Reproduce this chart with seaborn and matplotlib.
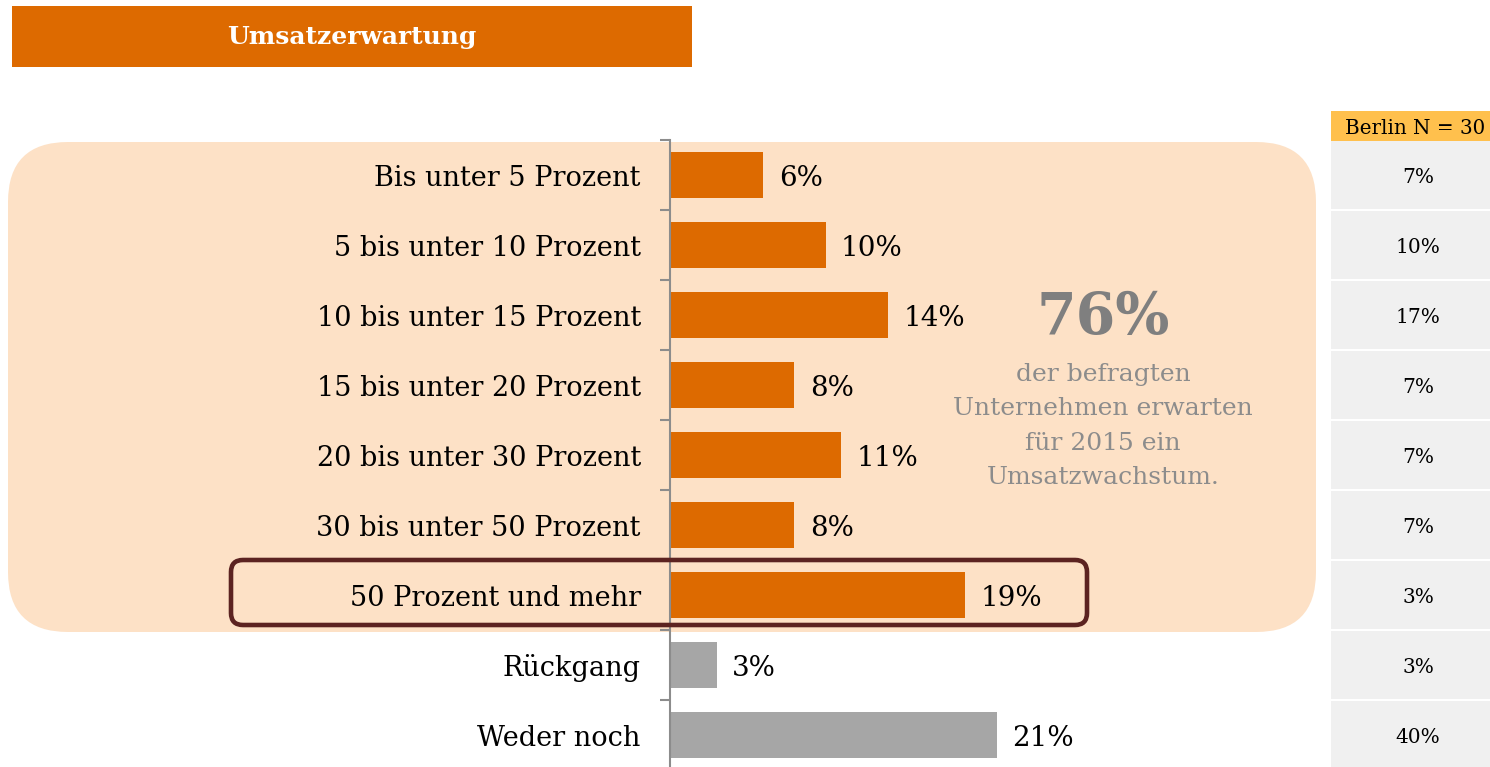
import matplotlib
matplotlib.use("Agg")
import matplotlib.pyplot as plt
import matplotlib.transforms as mtransforms
from matplotlib.patches import FancyBboxPatch, Rectangle
import seaborn as sns
import pandas as pd
import numpy as np

categories = ["Bis unter 5 Prozent", "5 bis unter 10 Prozent", "10 bis unter 15 Prozent",
              "15 bis unter 20 Prozent", "20 bis unter 30 Prozent", "30 bis unter 50 Prozent",
              "50 Prozent und mehr", "Rückgang", "Weder noch"]
values = [6, 10, 14, 8, 11, 8, 19, 3, 21]
groups = ["Wachstum"] * 7 + ["Sonstiges"] * 2
berlin_values = [7, 10, 17, 7, 7, 7, 3, 3, 40]
berlin_header = "Berlin N = 30"
title = "Umsatzerwartung"
big_number = "76%"
big_text = "der befragten\nUnternehmen erwarten\nfür 2015 ein\nUmsatzwachstum."

sns.set_theme(style="white")
plt.rcParams['font.family'] = ['DejaVu Serif']

ORANGE = "#DD6A00"
GREY = "#A6A6A6"
PEACH = "#FDE1C6"

df = pd.DataFrame({"cat": categories, "val": values, "grp": groups})

W, H = 1490, 767
fig = plt.figure(figsize=(W / 100, H / 100), dpi=100)
fig.patch.set_facecolor("white")

def px(x0, y0, x1, y1):
    return [x0 / W, (H - y1) / H, (x1 - x0) / W, (y1 - y0) / H]

ax = fig.add_axes(px(670, 140, 1320, 770))
ax.set_facecolor("none")

sns.barplot(data=df, y="cat", x="val", hue="grp", orient="h",
            palette={"Wachstum": ORANGE, "Sonstiges": GREY},
            width=0.66, dodge=False, legend=False, ax=ax, saturation=1,
            linewidth=0)

ax.set_xlim(0, 650 / 15.55)
ax.set_ylim(len(categories) - 0.5, -0.5)
ax.set_xlabel("")
ax.set_ylabel("")
ax.set_xticks([])
for s in ["top", "right", "bottom"]:
    ax.spines[s].set_visible(False)
ax.spines["left"].set_color("#8C8C8C")
ax.spines["left"].set_linewidth(1.5)
ax.set_yticks(np.arange(len(categories)))
ax.set_yticklabels(categories, fontsize=19.5)
ax.set_yticks(np.arange(len(categories) + 1) - 0.5, minor=True)
ax.tick_params(axis="y", which="major", length=0, pad=21, colors="black")
ax.tick_params(axis="y", which="minor", length=7, width=1.5, color="#8C8C8C", left=True)

for i, v in enumerate(values):
    ax.text(v + 1.0, i + 0.05, f"{v}%", va="center", ha="left", fontsize=20, color="black")

inch = fig.dpi_scale_trans
bg = FancyBboxPatch((0.08, (H - 632) / 100), 13.08, 4.90,
                    boxstyle="round,pad=0,rounding_size=0.6",
                    facecolor=PEACH, edgecolor="none", transform=inch, zorder=-5)
fig.add_artist(bg)

hl = FancyBboxPatch((2.31, (H - 625) / 100), 8.56, 0.65,
                    boxstyle="round,pad=0,rounding_size=0.12",
                    facecolor="none", edgecolor="#5C2321", linewidth=3.3,
                    transform=inch, zorder=5)
fig.add_artist(hl)

fig.add_artist(Rectangle((12 / W, (H - 67) / H), 680 / W, 61 / H,
                         transform=fig.transFigure, facecolor=ORANGE, edgecolor="none"))
fig.text(352 / W, 1 - 37 / H, title, ha="center", va="center", color="white",
         fontsize=18, fontweight="bold")

fig.text(1103 / W, 1 - 318 / H, big_number, ha="center", va="center",
         color="#7F7F7F", fontsize=41, fontweight="bold")
fig.text(1103 / W, 1 - 426 / H, big_text, ha="center", va="center",
         color="#8C8C8C", fontsize=18, linespacing=1.62)

blend = mtransforms.blended_transform_factory(fig.transFigure, ax.transData)
fig.add_artist(Rectangle((1331 / W, (H - 145) / H), 159 / W, 34 / H,
                         transform=fig.transFigure, facecolor="#FFC04D", edgecolor="none"))
fig.text(1345 / W, 1 - 129 / H, berlin_header, ha="left", va="center",
         fontsize=14.3, color="black")
for i, v in enumerate(berlin_values):
    fig.add_artist(Rectangle((1331 / W, i - 0.5 + 0.015), 159 / W, 0.97,
                             transform=blend, facecolor="#F0F0F0", edgecolor="none"))
    fig.add_artist(matplotlib.text.Text(1418 / W, i + 0.03, f"{v}%", ha="center", va="center",
                                        fontsize=14.5, color="black", transform=blend,
                                        family="DejaVu Serif"))

fig.savefig("out.png", dpi=100)
